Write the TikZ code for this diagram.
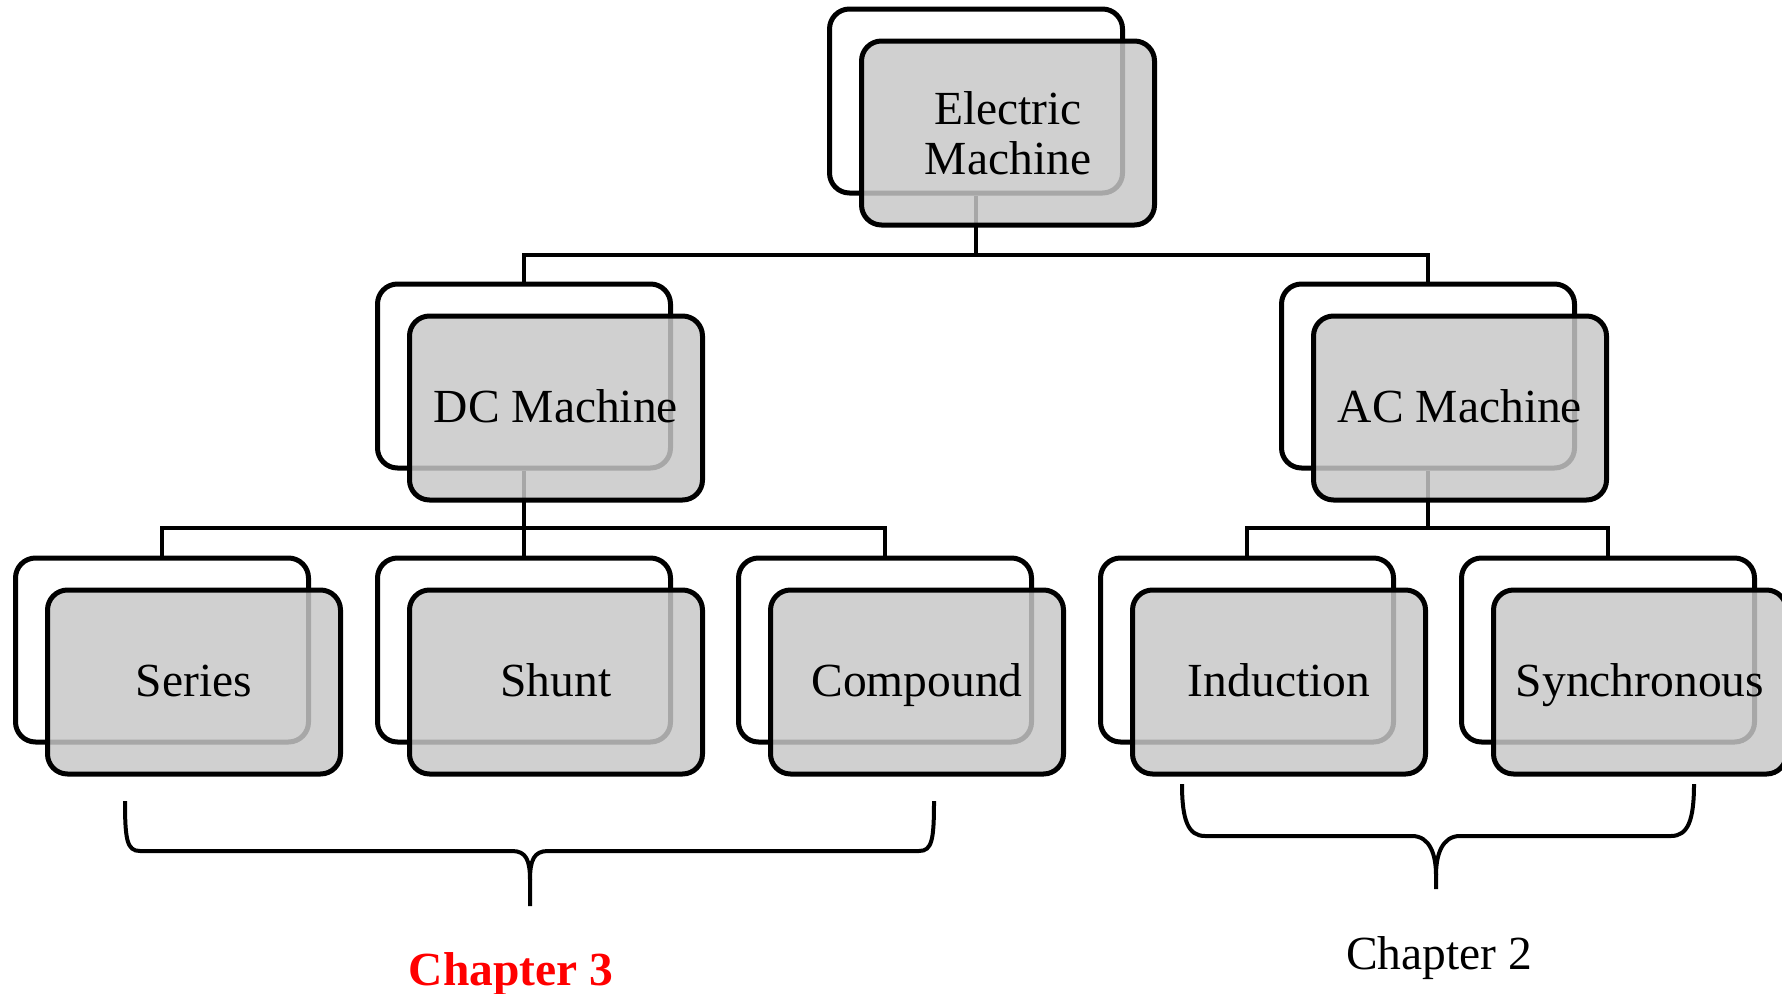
\documentclass[tikz,border=0pt]{standalone}
\usepackage{fontspec}
\setmainfont{Liberation Serif}
\begin{document}
\begin{tikzpicture}[x=1pt,y=-1pt,
  backbox/.style={draw=black, line width=5pt, rounded corners=20pt, fill=white,
    minimum width=293pt, minimum height=184pt, inner sep=0pt},
  frontbox/.style={draw=black, line width=5pt, rounded corners=20pt, fill=black!22,
    fill opacity=0.84, text opacity=1, minimum width=293pt, minimum height=184pt,
    inner sep=0pt, align=center, font=\fontsize{47.5}{50}\selectfont},
  oneline/.style={text height=35pt, text depth=6pt},
  conn/.style={line width=4pt},
  bracepath/.style={line width=4pt},
  chap/.style={font=\fontsize{47.5}{50}\selectfont, inner sep=0pt}
]
\useasboundingbox (0,0) rectangle (1782,993);
\clip (0,0) rectangle (1782,993);
% back boxes
\node[backbox] (em0) at (976,101) {};
\node[backbox] (dc0) at (524,376) {};
\node[backbox] (ac0) at (1428,376) {};
\node[backbox] (se0) at (162,650) {};
\node[backbox] (sh0) at (524,650) {};
\node[backbox] (co0) at (885,650) {};
\node[backbox] (in0) at (1247,650) {};
\node[backbox] (sy0) at (1608,650) {};
% connectors
\coordinate (b1) at (976,255);
\coordinate (b2) at (524,528);
\coordinate (b3) at (1428,528);
\draw[conn] (em0.south) -- (b1) -| (dc0.north);
\draw[conn] (b1) -| (ac0.north);
\draw[conn] (dc0.south) -- (b2) -| (se0.north);
\draw[conn] (b2) -| (co0.north);
\draw[conn] (b2) -- (sh0.north);
\draw[conn] (ac0.south) -- (b3) -| (in0.north);
\draw[conn] (b3) -| (sy0.north);
% front boxes
\node[frontbox] (em) at (1008,133) {Electric\\Machine};
\node[frontbox, oneline] (dc) at (556,408) {DC Machine};
\node[frontbox, oneline] (ac) at (1460,408) {AC Machine};
\node[frontbox, oneline] (se) at (194,682) {Series};
\node[frontbox, oneline] (sh) at (556,682) {Shunt};
\node[frontbox, oneline] (co) at (917,682) {Compound};
\node[frontbox, oneline] (in) at (1279,682) {Induction};
\node[frontbox, oneline] (sy) at (1640,682) {Synchronous};
% braces
\draw[bracepath] (125,801) .. controls (125,840) and (127,851) .. (140,851) -- (512,851)
  .. controls (526,851) and (530,860) .. (530,880) -- (530,906);
\draw[bracepath] (934,801) .. controls (934,840) and (932,851) .. (919,851) -- (548,851)
  .. controls (534,851) and (530,860) .. (530,880);
\draw[bracepath] (1182,784) .. controls (1182,820) and (1188,836) .. (1205,836) -- (1412,836)
  .. controls (1430,836) and (1436,855) .. (1436,875) -- (1436,889);
\draw[bracepath] (1694,784) .. controls (1694,820) and (1688,836) .. (1671,836) -- (1460,836)
  .. controls (1442,836) and (1436,855) .. (1436,875);
% labels
\node[chap, text=red, font=\fontsize{47.5}{50}\selectfont\bfseries] (c3) at (511,974) {Chapter 3};
\node[chap] (c2) at (1439,958) {Chapter 2};
\end{tikzpicture}
\end{document}
